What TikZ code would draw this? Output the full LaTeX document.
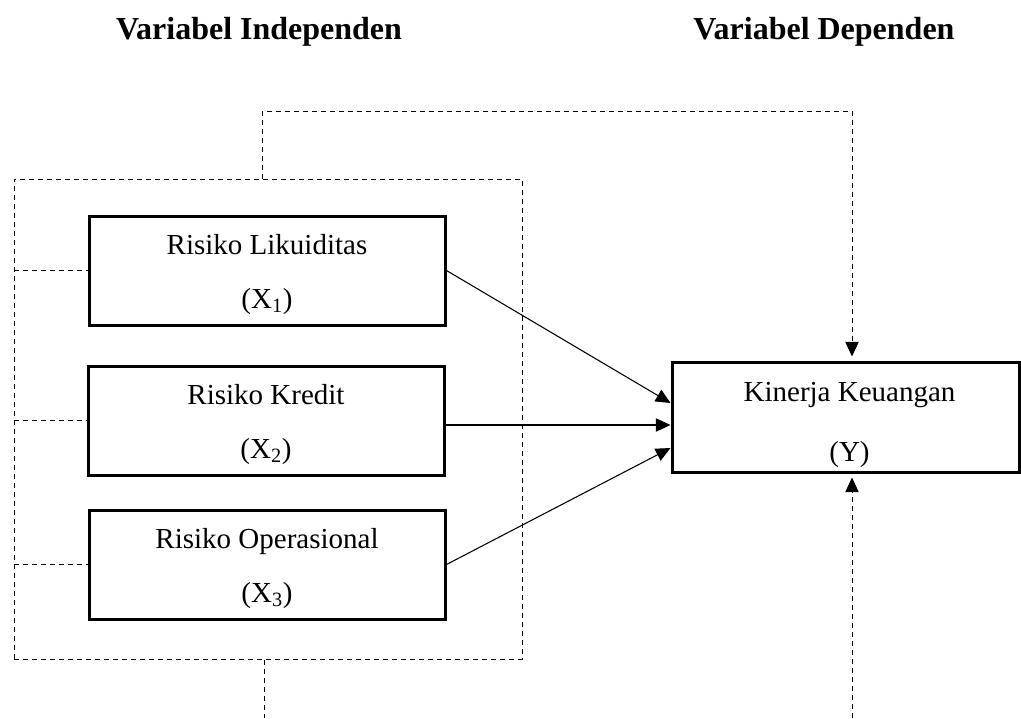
\documentclass[tikz,border=0pt]{standalone}
\usepackage{fontspec}
\setmainfont{Liberation Serif}
\usetikzlibrary{arrows.meta,calc}
\begin{document}
\begin{tikzpicture}[x=0.75pt,y=-0.75pt,
  varbox/.style={draw, line width=2.25pt, minimum width=267pt, minimum height=81.75pt, inner sep=0pt},
  boxtext/.style={align=center, inner sep=0pt, font=\fontsize{21.75}{41}\selectfont},
  titletext/.style={font=\fontsize{24}{28}\bfseries\selectfont},
  dashline/.style={line width=0.75pt, dash pattern=on 3.75pt off 3pt},
  arr/.style={line width=0.8pt, -{Triangle[length=11pt,width=10pt]}},
  darr/.style={dashline, -{Triangle[length=11pt,width=10pt]}, shorten >=3pt}
]
\useasboundingbox (0,0) rectangle (1021,718);
\node[titletext] (t1) at (259,32) {Variabel Independen};
\node[titletext] (t2) at (824,32) {Variabel Dependen};
\node[dashline, draw, minimum width=381pt, minimum height=360pt, inner sep=0pt] (frame) at (268,419) {};
\node[varbox] (x1) at (267,270.5) {};
\node[boxtext] (x1t) at ([yshift=-3pt]x1.center) {Risiko Likuiditas\\(X\textsubscript{1})};
\node[varbox] (x2) at (266,420.5) {};
\node[boxtext] (x2t) at ([yshift=-3pt]x2.center) {Risiko Kredit\\(X\textsubscript{2})};
\node[varbox] (x3) at (267,564.5) {};
\node[boxtext] (x3t) at ([yshift=-3pt]x3.center) {Risiko Operasional\\(X\textsubscript{3})};
\node[varbox, minimum width=260.25pt, minimum height=82.5pt] (y) at (845.5,417) {};
\node[boxtext, font=\fontsize{21.75}{45}\selectfont] (yt) at ([xshift=3pt,yshift=-6pt]y.center) {Kinerja Keuangan\\(Y)};
% dashed links from frame to boxes
\draw[dashline] (frame.west |- x1.west) -- (x1.west);
\draw[dashline] (frame.west |- x2.west) -- (x2.west);
\draw[dashline] (frame.west |- x3.west) -- (x3.west);
% top dashed connector
\coordinate (topL) at (262,111);
\coordinate (topR) at (852,111);
\draw[darr] (frame.north -| topL) -- (topL) -- (topR) -- (topR |- y.north);
% bottom dashed lines
\coordinate (bL) at (264,718);
\draw[dashline] (frame.south -| bL) -- (bL);
\coordinate (bR) at (852,718);
\draw[darr] (bR) -- (bR |- y.south);
% solid arrows
\coordinate (a1) at ($(y.west)+(0,-14)$);
\coordinate (a2) at ($(y.west)+(0,8)$);
\coordinate (a3) at ($(y.west)+(0,31)$);
\draw[arr] (x1.east) -- (a1);
\draw[arr] (x2.east |- a2) -- (a2);
\draw[arr] (x3.east) -- (a3);
\end{tikzpicture}
\end{document}
